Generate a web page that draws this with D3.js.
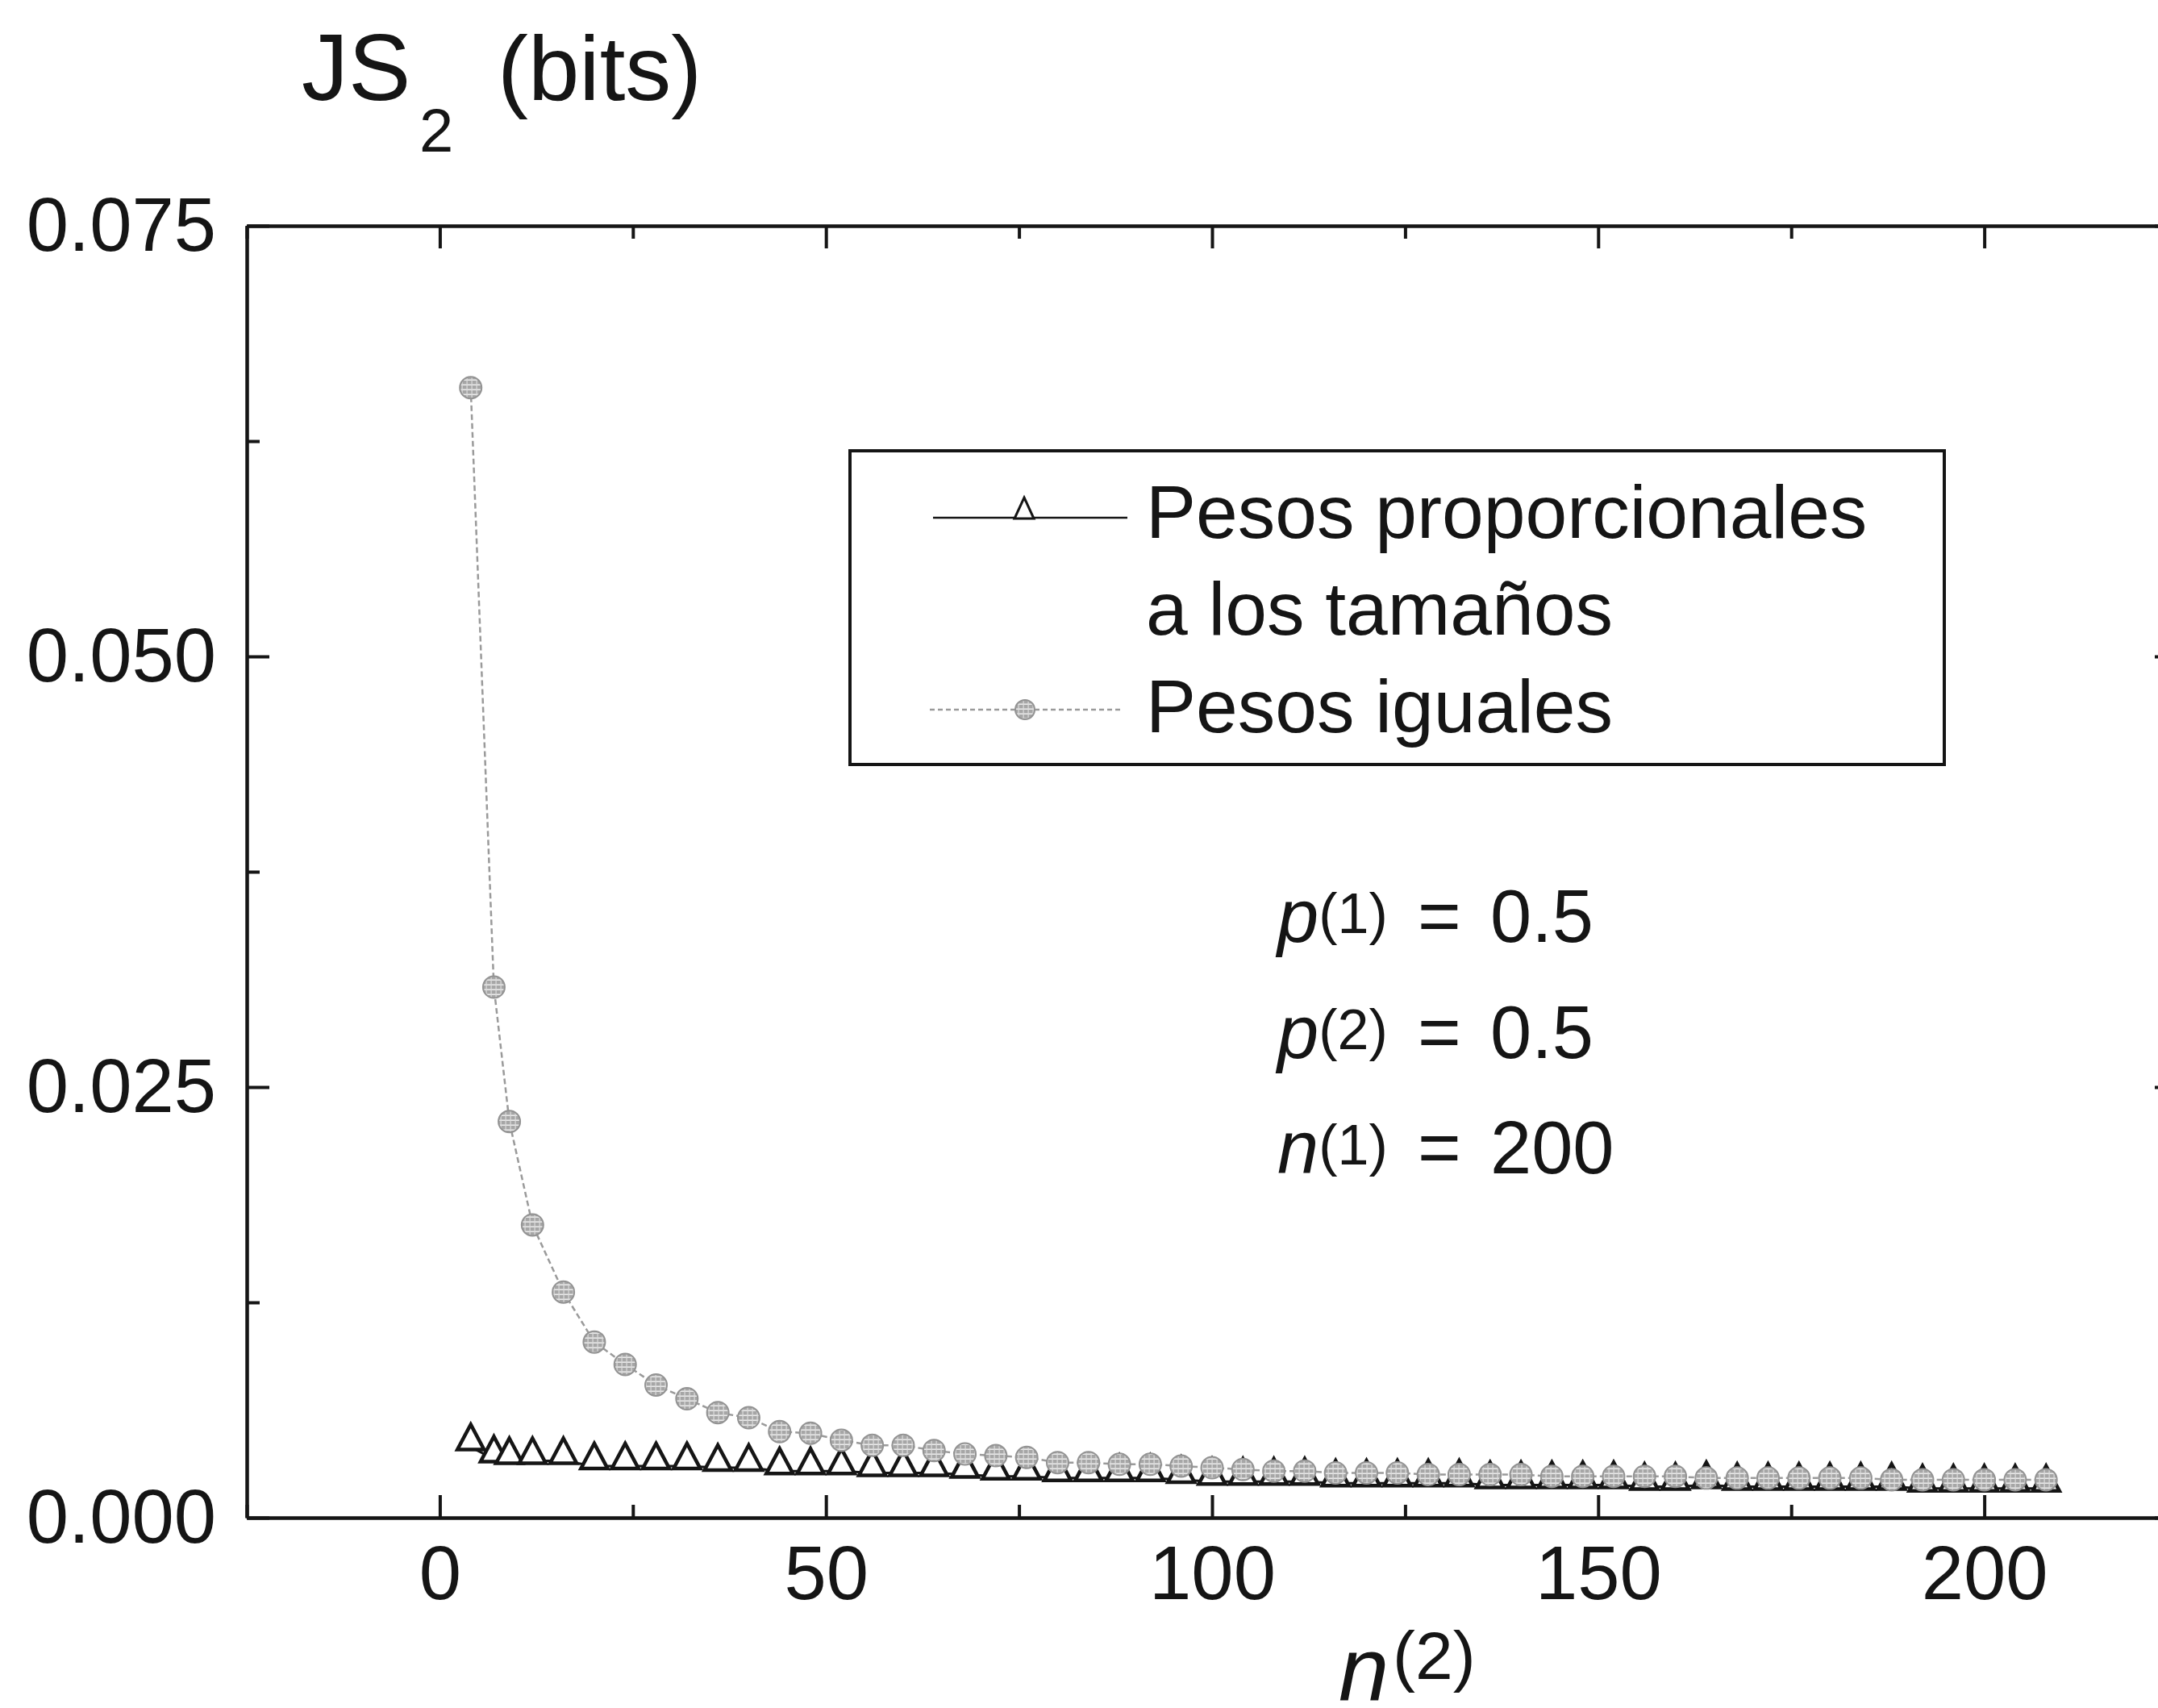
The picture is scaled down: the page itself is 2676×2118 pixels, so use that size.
<!DOCTYPE html>
<html>
<head>
<meta charset="utf-8">
<script src="https://cdn.jsdelivr.net/npm/d3@7"></script>
<style>
  body { margin: 0; background: #fff; }
  svg { display: block; }
  text { font-family: "Liberation Sans", Arial, sans-serif; fill: #151515; }
</style>
</head>
<body>
<svg id="chart" width="2676" height="2118"></svg>
<script>
// Sample size of the second sequence, n(2)
const nValues = [4, 7, 9, 12, 16, 20, 24, 28, 32, 36, 40, 44, 48, 52, 56, 60, 64, 68, 72, 76,
  80, 84, 88, 92, 96, 100, 104, 108, 112, 116, 120, 124, 128, 132, 136, 140, 144, 148, 152, 156,
  160, 164, 168, 172, 176, 180, 184, 188, 192, 196, 200, 204, 208];

// JS2 in bits, weights proportional to the sizes
const pesosProporcionales = [0.0041, 0.0034, 0.0033, 0.0033, 0.0033, 0.0030, 0.0030, 0.0030, 0.0030, 0.0029,
  0.0029, 0.0027, 0.0027, 0.0027, 0.0026, 0.0026, 0.0026, 0.0025, 0.0024, 0.0024,
  0.0023, 0.0023, 0.0023, 0.0023, 0.0022, 0.0021, 0.0021, 0.0021, 0.0021, 0.0020,
  0.0020, 0.0020, 0.0020, 0.0020, 0.0019, 0.0019, 0.0019, 0.0019, 0.0019, 0.0018,
  0.0018, 0.0019, 0.0018, 0.0018, 0.0018, 0.0018, 0.0018, 0.0018, 0.0017, 0.0017,
  0.0017, 0.0017, 0.0017];

// JS2 in bits, equal weights
const pesosIguales = [0.0656, 0.0308, 0.0230, 0.0170, 0.0131, 0.0102, 0.0089, 0.0077, 0.0069, 0.0061,
  0.0058, 0.0050, 0.0049, 0.0045, 0.0042, 0.0042, 0.0039, 0.0037, 0.0036, 0.0035,
  0.0032, 0.0032, 0.0031, 0.0031, 0.0030, 0.0029, 0.0028, 0.0027, 0.0027, 0.0026,
  0.0026, 0.0026, 0.0025, 0.0025, 0.0025, 0.0025, 0.0024, 0.0024, 0.0024, 0.0024,
  0.0024, 0.0023, 0.0023, 0.0023, 0.0023, 0.0023, 0.0023, 0.0022, 0.0022, 0.0022,
  0.0022, 0.0022, 0.0022];

const xMajorTicks = [0, 50, 100, 150, 200];
const xMinorTicks = [-25, 25, 75, 125, 175, 225];
const yMajorTicks = [0, 0.025, 0.050, 0.075];
const yMinorTicks = [0.0125, 0.0375, 0.0625];
const yTickLabels = ["0.000", "0.025", "0.050", "0.075"];

const legendLabels = ["Pesos proporcionales", "a los tamaños", "Pesos iguales"];
const paramNames = ["p", "p", "n"];
const paramIndex = ["(1)", "(2)", "(1)"];
const paramValues = ["0.5", "0.5", "200"];

const svg = d3.select("#chart");
const frame = { left: 306, right: 2700, top: 280, bottom: 1882 };

const x = d3.scaleLinear().domain([-25, 225]).range([frame.left, frame.right]);
const y = d3.scaleLinear().domain([0, 0.075]).range([frame.bottom, frame.top]);

// Hatched fill of the round markers
const defs = svg.append("defs");
const pat = defs.append("pattern").attr("id", "hatch")
  .attr("width", 6).attr("height", 6).attr("patternUnits", "userSpaceOnUse");
pat.append("rect").attr("width", 6).attr("height", 6).attr("fill", "#a6a6a6");
pat.append("rect").attr("x", 0).attr("y", 2.5).attr("width", 6).attr("height", 1.4).attr("fill", "#f2f2f2");
pat.append("rect").attr("x", 2.5).attr("y", 0).attr("width", 1.2).attr("height", 6).attr("fill", "#dcdcdc");

// ---- axes (ticks point inward on all four sides) ----
const axisStyle = g => {
  g.select(".domain").attr("stroke", "#151515").attr("stroke-width", 4);
  g.selectAll(".tick line").attr("stroke", "#151515").attr("stroke-width", 4);
  g.selectAll(".tick text").attr("font-size", 94).attr("fill", "#151515")
    .attr("font-family", "\"Liberation Sans\", Arial, sans-serif");
};

svg.append("g").attr("transform", `translate(0,${frame.bottom})`)
  .call(d3.axisBottom(x).tickValues(xMajorTicks).tickSizeInner(-28).tickSizeOuter(0).tickPadding(34))
  .call(axisStyle);
svg.append("g").attr("transform", `translate(0,${frame.bottom})`)
  .call(d3.axisBottom(x).tickValues(xMinorTicks).tickSizeInner(-16).tickSizeOuter(0).tickFormat(""))
  .call(axisStyle);
svg.append("g").attr("transform", `translate(0,${frame.top})`)
  .call(d3.axisTop(x).tickValues(xMajorTicks).tickSizeInner(-28).tickSizeOuter(0).tickFormat(""))
  .call(axisStyle);
svg.append("g").attr("transform", `translate(0,${frame.top})`)
  .call(d3.axisTop(x).tickValues(xMinorTicks).tickSizeInner(-16).tickSizeOuter(0).tickFormat(""))
  .call(axisStyle);

svg.append("g").attr("transform", `translate(${frame.left},0)`)
  .call(d3.axisLeft(y).tickValues(yMajorTicks).tickSizeInner(-28).tickSizeOuter(0).tickPadding(38)
    .tickFormat((d, i) => yTickLabels[i]))
  .call(axisStyle);
svg.append("g").attr("transform", `translate(${frame.left},0)`)
  .call(d3.axisLeft(y).tickValues(yMinorTicks).tickSizeInner(-16).tickSizeOuter(0).tickFormat(""))
  .call(axisStyle);
svg.append("g").attr("transform", `translate(${frame.right},0)`)
  .call(d3.axisRight(y).tickValues(yMajorTicks).tickSizeInner(-28).tickSizeOuter(0).tickFormat(""))
  .call(axisStyle);
svg.append("g").attr("transform", `translate(${frame.right},0)`)
  .call(d3.axisRight(y).tickValues(yMinorTicks).tickSizeInner(-16).tickSizeOuter(0).tickFormat(""))
  .call(axisStyle);

// ---- series ----
const propData = nValues.map((n, i) => ({ n, v: pesosProporcionales[i] }));
const igualData = nValues.map((n, i) => ({ n, v: pesosIguales[i] }));
const line = d3.line().x(d => x(d.n)).y(d => y(d.v));

// open triangle whose base sits on the data point
const triPath = (w, h) => `M0,${-h + 3}L${w / 2},3L${-w / 2},3Z`;

svg.append("path").datum(propData).attr("d", line)
  .attr("fill", "none").attr("stroke", "#151515").attr("stroke-width", 3);
svg.append("g").selectAll("path").data(propData).join("path")
  .attr("transform", d => `translate(${x(d.n)},${y(d.v)})`)
  .attr("d", triPath(33, 31))
  .attr("fill", "#fff").attr("stroke", "#151515").attr("stroke-width", 4.5)
  .attr("stroke-linejoin", "miter");

svg.append("path").datum(igualData).attr("d", line)
  .attr("fill", "none").attr("stroke", "#9a9a9a").attr("stroke-width", 2.5)
  .attr("stroke-dasharray", "7 4");
svg.append("g").selectAll("circle").data(igualData).join("circle")
  .attr("cx", d => x(d.n)).attr("cy", d => y(d.v)).attr("r", 13.5)
  .attr("fill", "url(#hatch)").attr("stroke", "#939393").attr("stroke-width", 2);

// ---- legend ----
const legend = svg.append("g");
legend.append("rect").attr("x", 1054).attr("y", 559).attr("width", 1357).attr("height", 389)
  .attr("fill", "#fff").attr("stroke", "#151515").attr("stroke-width", 4);
legend.append("line").attr("x1", 1157).attr("x2", 1398).attr("y1", 642).attr("y2", 642)
  .attr("stroke", "#151515").attr("stroke-width", 2.5);
legend.append("path").attr("transform", "translate(1270,640)").attr("d", triPath(24, 26))
  .attr("fill", "#fff").attr("stroke", "#151515").attr("stroke-width", 3);
legend.append("line").attr("x1", 1153).attr("x2", 1393).attr("y1", 880).attr("y2", 880)
  .attr("stroke", "#9a9a9a").attr("stroke-width", 2.5).attr("stroke-dasharray", "6 4");
legend.append("circle").attr("cx", 1271).attr("cy", 880).attr("r", 12)
  .attr("fill", "url(#hatch)").attr("stroke", "#939393").attr("stroke-width", 2);
const legendBaselines = [667, 787, 908];
legend.selectAll("text.lab").data(legendLabels).join("text").attr("class", "lab")
  .attr("x", 1421).attr("y", (d, i) => legendBaselines[i])
  .attr("font-size", 93).text(d => d);

// ---- parameter annotations ----
const paramBaselines = [1168, 1312, 1455];
const params = svg.append("g");
paramNames.forEach((name, i) => {
  const t = params.append("text").attr("y", paramBaselines[i]).attr("font-size", 92);
  t.append("tspan").attr("x", 1584).attr("font-style", "italic").text(name);
  t.append("tspan").attr("font-size", 70).attr("dy", -11).text(paramIndex[i]);
  t.append("tspan").attr("x", 1758).attr("dy", 11).text("=");
  t.append("tspan").attr("x", 1848).text(paramValues[i]);
});

// ---- axis titles ----
const yTitle = svg.append("text").attr("y", 124).attr("font-size", 116);
yTitle.append("tspan").attr("x", 374).text("JS");
yTitle.append("tspan").attr("x", 520).attr("dy", 64).attr("font-size", 76).text("2");
yTitle.append("tspan").attr("x", 617).attr("dy", -64).attr("font-size", 114).text("(bits)");

const xTitle = svg.append("text").attr("y", 2108).attr("font-size", 112);
xTitle.append("tspan").attr("x", 1660).attr("font-style", "italic").text("n");
xTitle.append("tspan").attr("x", 1727).attr("dy", -26).attr("font-size", 84).text("(2)");
</script>
</body>
</html>
